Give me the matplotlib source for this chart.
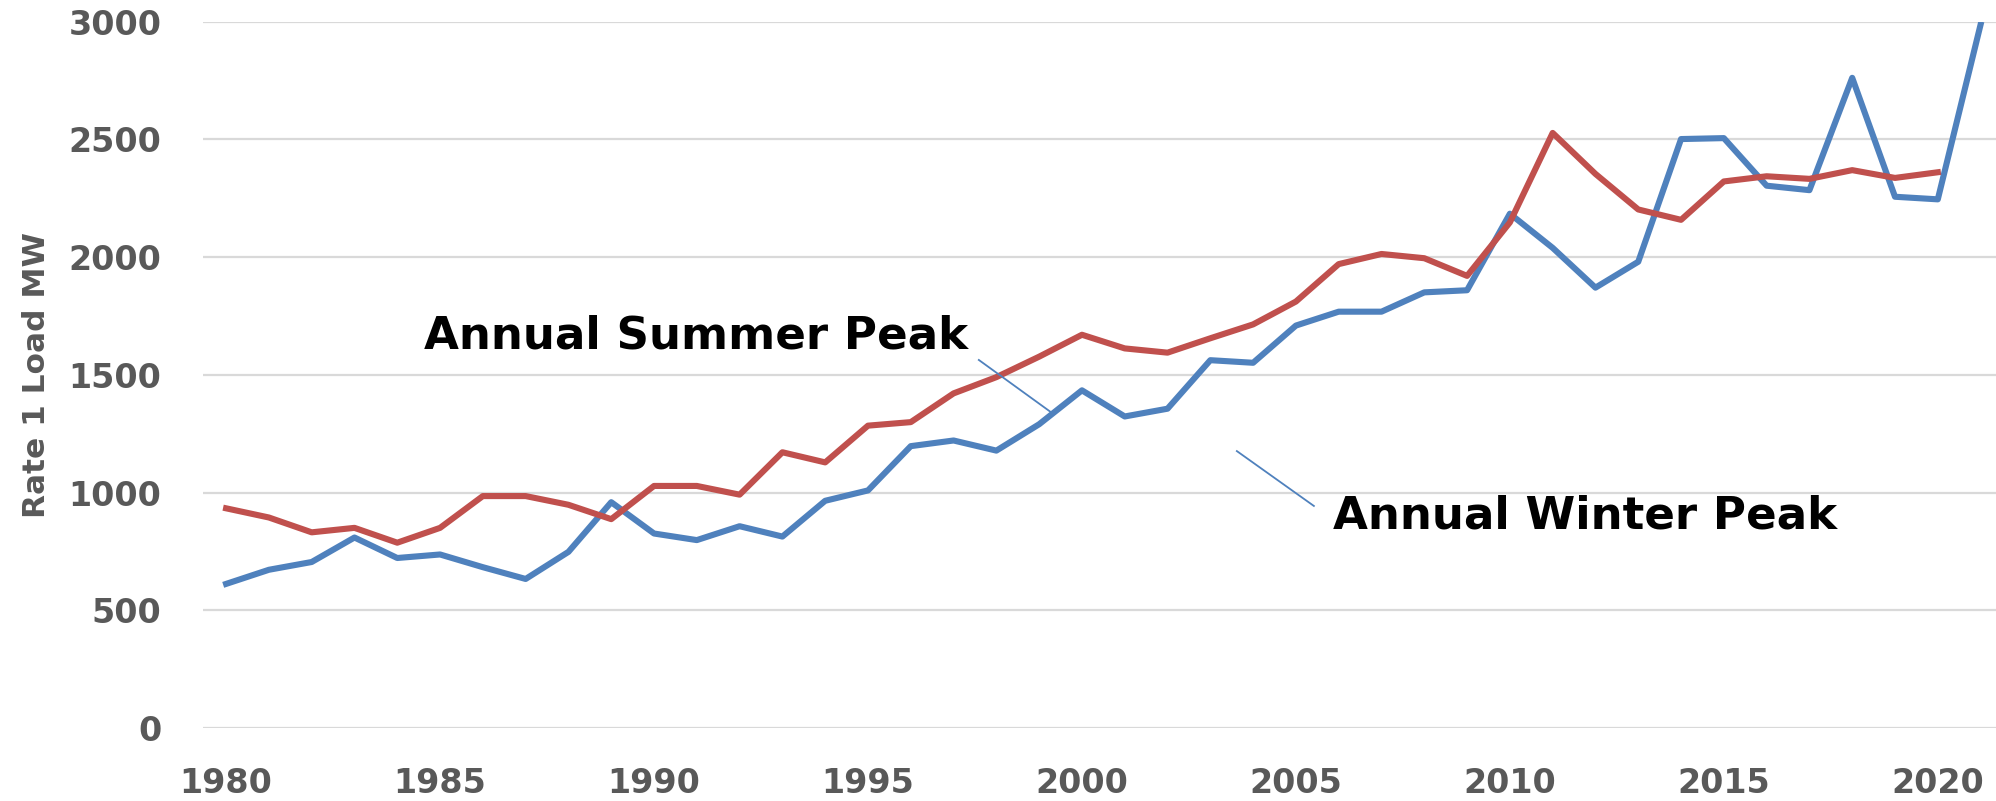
import matplotlib
matplotlib.use('Agg')
import matplotlib.pyplot as plt

YEARS = list(range(1980, 2022))

# annual winter peak (blue), 1980-2021
WINTER = [612, 672, 705, 809, 722, 737, 683, 633, 748, 959,
          826, 798, 857, 813, 965, 1009, 1197, 1221, 1178, 1290,
          1434, 1323, 1356, 1562, 1551, 1709, 1768, 1768, 1850, 1859,
          2184, 2039, 1870, 1980, 2501, 2505, 2303, 2284, 2761, 2256,
          2245, 2987]

# annual summer peak (red), 1980-2020
SUMMER = [933, 894, 831, 850, 787, 850, 985, 985, 948, 887,
          1028, 1028, 991, 1171, 1128, 1284, 1299, 1421, 1490, 1577,
          1670, 1612, 1594, 1655, 1714, 1811, 1970, 2013, 1995, 1920,
          2147, 2527, 2353, 2202, 2158, 2321, 2343, 2332, 2369, 2336,
          2360]

Y_TICKS = [0, 500, 1000, 1500, 2000, 2500, 3000]
X_TICKS = [1980, 1985, 1990, 1995, 2000, 2005, 2010, 2015, 2020]

BLUE = '#4F81BD'
RED = '#C0504D'
GRAY = '#595959'


def main():
    fig = plt.figure(figsize=(19.96, 8.01), dpi=100)
    ax = fig.add_axes([0.1017, 0.0911, 0.8983, 0.882])

    ax.plot(YEARS, WINTER, color=BLUE, linewidth=4.4, solid_joinstyle='round', zorder=3)
    ax.plot(YEARS[:len(SUMMER)], SUMMER, color=RED, linewidth=4.4, solid_joinstyle='round', zorder=3)

    ax.set_xlim(1979.46, 2021.36)
    ax.set_ylim(0, 3000)
    ax.set_yticks(Y_TICKS)
    ax.set_xticks(X_TICKS)

    ax.grid(axis='y', color='#D9D9D9', linewidth=1.6, zorder=0)
    ax.set_axisbelow(True)
    for s in ax.spines.values():
        s.set_visible(False)

    ax.tick_params(axis='both', length=0, labelsize=24, labelcolor=GRAY)
    ax.tick_params(axis='y', pad=30)
    ax.tick_params(axis='x', pad=28)
    for lab in ax.get_xticklabels() + ax.get_yticklabels():
        lab.set_fontweight('bold')

    ax.set_ylabel('Rate 1 Load MW', fontsize=22.5, color=GRAY, fontweight='bold')
    ax.yaxis.set_label_coords(-0.085, 0.5)

    # annotations with thin leader lines
    ax.text(1984.63, 1664, 'Annual Summer Peak', fontsize=32.5, fontweight='bold',
            color='black', va='center', ha='left')
    ax.plot([1997.59, 1999.30], [1563, 1338], color=BLUE, linewidth=1.3, zorder=4)

    ax.text(2005.86, 900, 'Annual Winter Peak', fontsize=32.5, fontweight='bold',
            color='black', va='center', ha='left')
    ax.plot([2003.62, 2005.42], [1176, 943], color=BLUE, linewidth=1.3, zorder=4)

    fig.savefig('out.png', dpi=100)
    plt.close('all')


if __name__ == '__main__':
    main()
